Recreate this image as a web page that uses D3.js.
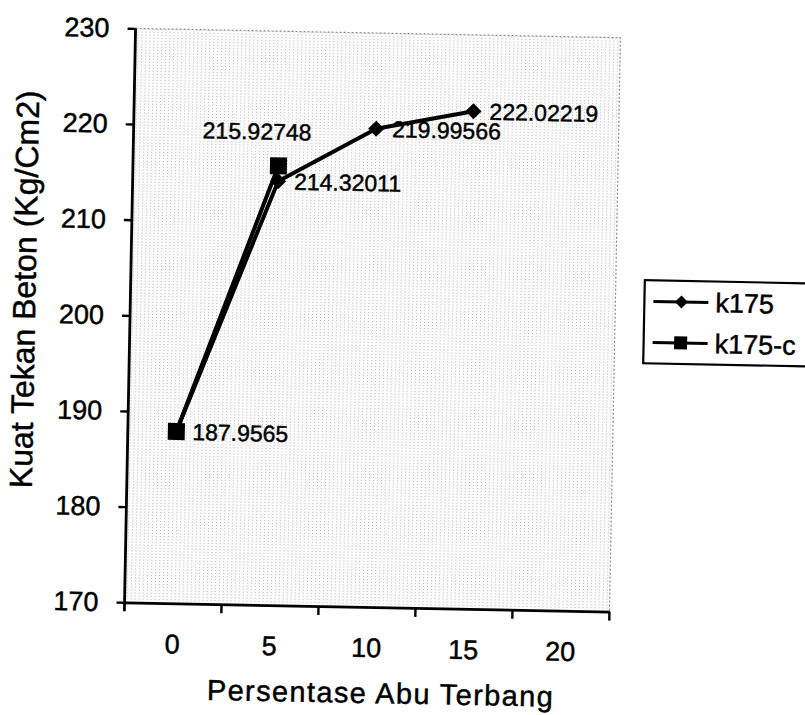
<!DOCTYPE html>
<html>
<head>
<meta charset="utf-8">
<script src="https://cdn.jsdelivr.net/npm/d3@7/dist/d3.min.js"></script>
<style>
  html, body { margin: 0; padding: 0; background: #fff; }
  svg { display: block; font-family: "Liberation Sans", Arial, sans-serif; }
  svg text { fill: #000; stroke: #000; stroke-width: 0.45px; }
</style>
</head>
<body>
<svg id="chart" width="805" height="715"></svg>
<script>
// ── Data ─────────────────────────────────────────────────────────
const CATEGORIES = [0, 5, 10, 15, 20];
const Y_TICKS = [170, 180, 190, 200, 210, 220, 230];
const K175 = [187.9565, 214.32011, 219.99566, 222.02219, null];
const K175C = [187.9565, 215.92748, null, null, null];
const SERIES = [
  { name: 'k175', values: K175, marker: 'diamond' },
  { name: 'k175-c', values: K175C, marker: 'square' }
];
const X_TITLE = 'Persentase Abu Terbang';
const Y_TITLE = 'Kuat Tekan Beton (Kg/Cm2)';

// ── Layout (unrotated; the scan is tilted ~1.1°) ─────────────────
const P = { left: 130, right: 615, top: 33, bottom: 607 };
const svg = d3.select('#chart');
const defs = svg.append('defs');

const pat = defs.append('pattern').attr('id', 'dots')
  .attr('width', 4).attr('height', 3).attr('patternUnits', 'userSpaceOnUse');
pat.append('rect').attr('width', 4).attr('height', 3).attr('fill', '#fbfbfb');
pat.append('rect').attr('width', 1).attr('height', 1).attr('fill', '#bdbdbd');

const g = svg.append('g').attr('transform', 'rotate(1.1, 372, 320)');

const x = d3.scaleBand().domain(CATEGORIES).range([P.left, P.right]).paddingInner(0).paddingOuter(0);
const y = d3.scaleLinear().domain([170, 230]).range([P.bottom, P.top]);
const cx = c => x(c) + x.bandwidth() / 2;

// ── Plot area ────────────────────────────────────────────────────
g.append('rect')
  .attr('x', P.left).attr('y', P.top)
  .attr('width', P.right - P.left).attr('height', P.bottom - P.top)
  .attr('fill', 'url(#dots)');

g.append('path')
  .attr('d', `M${P.left},${P.top}H${P.right}V${P.bottom}`)
  .attr('fill', 'none').attr('stroke', '#8a8a8a')
  .attr('stroke-width', 1.2).attr('stroke-dasharray', '2,2');

// ── Axes ─────────────────────────────────────────────────────────
const yAxis = g.append('g').attr('transform', `translate(${P.left},0)`)
  .call(d3.axisLeft(y).tickValues(Y_TICKS).tickSize(8).tickSizeOuter(0).tickPadding(18));
yAxis.selectAll('text').attr('font-size', 27);

const xAxis = g.append('g').attr('transform', `translate(0,${P.bottom})`)
  .call(d3.axisBottom(x).tickSize(0).tickSizeOuter(0).tickPadding(31));
xAxis.selectAll('text').attr('font-size', 27);

[yAxis, xAxis].forEach(a => {
  a.select('.domain').attr('stroke', '#000').attr('stroke-width', 2.8);
  a.selectAll('.tick line').attr('stroke', '#000').attr('stroke-width', 2.4);
  a.attr('font-family', null);
});
yAxis.select('.domain').attr('d', `M0,${P.top}V${P.bottom + 9}`);

// x tick marks sit on the category boundaries
const bounds = CATEGORIES.map(c => x(c)).concat([x(CATEGORIES[CATEGORIES.length - 1]) + x.bandwidth()]);
g.append('g').selectAll('line')
  .data(bounds.slice(1)).join('line')
  .attr('x1', d => d).attr('x2', d => d)
  .attr('y1', P.bottom).attr('y2', P.bottom + 9)
  .attr('stroke', '#000').attr('stroke-width', 2.4);

// ── Titles ───────────────────────────────────────────────────────
g.append('text')
  .attr('x', 387).attr('y', 703)
  .attr('text-anchor', 'middle').attr('font-size', 29)
  .attr('textLength', 346).attr('lengthAdjust', 'spacing')
  .text(X_TITLE);

g.append('text')
  .attr('transform', 'translate(35,296) rotate(-90)')
  .attr('text-anchor', 'middle').attr('font-size', 32)
  .text(Y_TITLE);

// ── Series ───────────────────────────────────────────────────────
const line = d3.line()
  .defined(d => d.v != null)
  .x(d => cx(d.c)).y(d => y(d.v));

function drawMarker(sel, type, size) {
  if (type === 'diamond') {
    sel.append('path').attr('d', `M0,${-size}L${size},0L0,${size}L${-size},0Z`).attr('fill', '#000');
  } else {
    sel.append('rect').attr('x', -size).attr('y', -size)
      .attr('width', size * 2).attr('height', size * 2).attr('fill', '#000');
  }
}

SERIES.forEach(s => {
  const pts = s.values.map((v, i) => ({ c: CATEGORIES[i], v, i }));
  g.append('path').datum(pts)
    .attr('d', line).attr('fill', 'none')
    .attr('stroke', '#000').attr('stroke-width', 4).attr('stroke-linejoin', 'round');

  pts.filter(p => p.v != null).forEach(p => {
    const m = g.append('g').attr('transform', `translate(${cx(p.c)},${y(p.v)})`);
    drawMarker(m, s.marker, s.marker === 'diamond' ? 8 : 8.5);
  });
});

// ── Data labels ──────────────────────────────────────────────────
K175.forEach((v, i) => {
  if (v == null) return;
  g.append('text')
    .attr('x', cx(CATEGORIES[i]) + 16).attr('y', y(v))
    .attr('dy', '0.36em').attr('font-size', 23)
    .text(v);
});
K175C.forEach((v, i) => {
  if (v == null || v === K175[i]) return;
  g.append('text')
    .attr('x', cx(CATEGORIES[i]) - 22).attr('y', y(v) - 26)
    .attr('text-anchor', 'middle').attr('font-size', 23)
    .text(v);
});

// ── Legend ───────────────────────────────────────────────────────
const legend = g.append('g').attr('transform', 'translate(644,275)');
legend.append('rect')
  .attr('width', 220).attr('height', 83)
  .attr('fill', '#fff').attr('stroke', '#000').attr('stroke-width', 2.2);

SERIES.forEach((s, i) => {
  const row = legend.append('g').attr('transform', `translate(0,${21 + i * 41})`);
  row.append('line').attr('x1', 9).attr('x2', 64)
    .attr('stroke', '#000').attr('stroke-width', 3);
  drawMarker(row.append('g').attr('transform', 'translate(37,0)'), s.marker, 6.5);
  row.append('text').attr('x', 71).attr('dy', '0.36em')
    .attr('font-size', 27).text(s.name);
});
</script>
</body>
</html>
